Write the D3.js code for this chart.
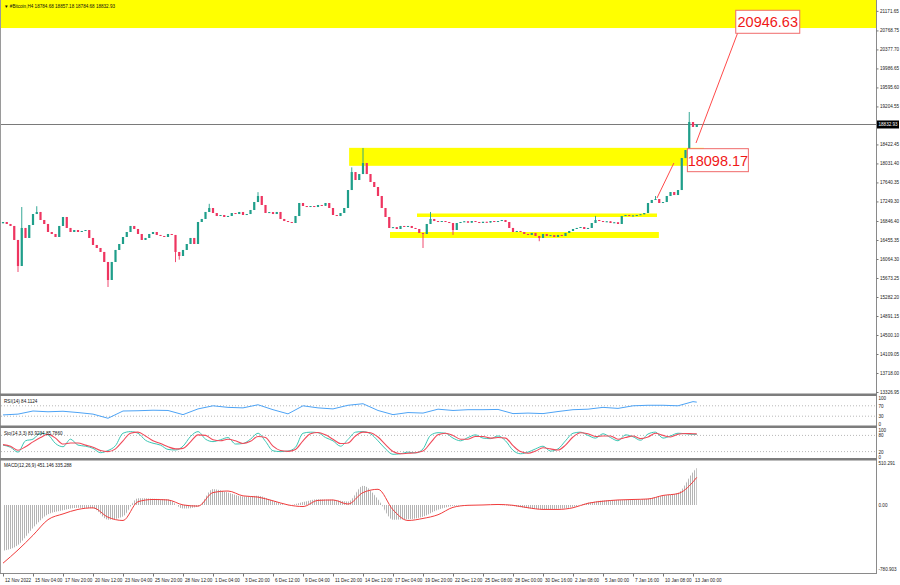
<!DOCTYPE html>
<html><head><meta charset="utf-8">
<script src="https://cdn.jsdelivr.net/npm/d3@7/dist/d3.min.js"></script>
<style>
body{margin:0;background:#fff;}
svg{display:block;font-family:"Liberation Sans",Arial,sans-serif;}
</style>
</head><body>
<svg id="c" width="900" height="585"></svg>
<script>
// ---------------- DATA ----------------
const symbolTitle = "\u25BC #Bitcoin,H4  18784.68 18857.18 18784.68 18832.93";
const firstOpen = 16800;
const closes = [16826,16785,16744,16456,15920,16703,16497,16764,16990,17032,
16867,16785,16620,16579,16517,16744,16929,16703,16620,16661,
16620,16641,16661,16497,16353,16291,16209,16003,15632,16003,
16250,16373,16517,16620,16744,16682,16579,16456,16497,16579,
16620,16559,16538,16517,16579,16559,16209,16126,16250,16373,
16497,16373,16826,16888,17032,17114,17011,16949,16970,16929,
16950,17011,16990,17032,16970,16990,17073,17237,17361,17176,
17011,17030,16990,17032,16888,16846,16826,16805,16949,17217,
17155,17134,17155,17134,17176,17160,17217,17114,16970,16949,
17011,17114,17484,17854,17690,17813,18040,17813,17649,17546,
17361,17114,16929,16703,16720,16682,16744,16723,16744,16703,
16682,16600,16579,16785,16888,16846,16826,16846,16826,16805,
16661,16805,16826,16840,16812,16846,16826,16805,16830,16815,
16846,16826,16846,16867,16826,16703,16620,16641,16620,16579,
16559,16600,16538,16497,16579,16538,16555,16517,16559,16538,
16600,16641,16682,16703,16723,16682,16703,16805,16867,16846,
16826,16840,16805,16820,16785,16949,16970,16949,16960,16970,
16985,17011,17217,17279,17299,17217,17237,17361,17443,17381,
17484,18142,18307,18884,18782,18832.93];
const upperWickIdx = [5, 9, 55, 68, 93, 96, 114, 158, 174, 183];
const upperWickVal = [17134, 17150, 17200, 17440, 17950, 18349, 17032, 16950, 17361, 19090];
const lowerWickIdx = [4, 28, 46, 47, 112, 120, 143];
const lowerWickVal = [15797, 15488, 16000, 16050, 16291, 16560, 16430];

const priceTicks = [13326.95,13718.00,14109.05,14500.10,14891.15,15282.20,15673.25,16064.30,16455.35,16846.40,17249.30,17640.35,18031.40,18422.45,19204.55,19595.60,19986.65,20377.70,20768.75,21171.65];
const lastPrice = 18832.93;

const timeLabels = ["12 Nov 2022","15 Nov 04:00","17 Nov 20:00","20 Nov 12:00","23 Nov 04:00","25 Nov 20:00","28 Nov 12:00","1 Dec 04:00","3 Dec 20:00","6 Dec 12:00","9 Dec 04:00","11 Dec 20:00","14 Dec 12:00","17 Dec 04:00","19 Dec 20:00","22 Dec 12:00","25 Dec 08:00","28 Dec 00:00","30 Dec 16:00","2 Jan 08:00","5 Jan 00:00","7 Jan 16:00","10 Jan 08:00","13 Jan 00:00"];
const timeIdx = timeLabels.map((d,i)=>i*8);

// zones: [startIdx, endIdx, lowPrice, highPrice]
const zoneStart = [-1, 92.3, 110.4, 103.2];
const zoneEnd   = [233, 186.9, 174.4, 174.9];
const zoneLow   = [20818, 17982, 16929, 16497];
const zoneHigh  = [21600, 18352, 17001, 16620];

// projection lines
const lineAIdx = [174.4, 178.9], lineAVal = [17320, 18040];
const lineBIdx = [184.8, 196.0], lineBVal = [18452, 20736];
const tagText = ["20946.63","18098.17"];
const tagPrice = [20946.63, 18098.17];
const tagIdx = [195.4, 182.5];

// RSI (every 4 bars + last)
const rsiTitle = "RSI(14) 84.1124";
const rsi = [35,38,50,47,49,44,38,22,50,51,53,52,36,58,70,64,62,74,55,39,70,62,58,72,78,52,36,44,42,57,52,55,55,56,40,42,40,48,55,57,64,60,70,72,72,70,86,84.11];
const rsiLevels = [70,30];
const rsiTicks = [100,70,30,0];

// Stochastic (every 2 bars + last)
const stoTitle = "Sto(14,3,3) 83.9234 85.7860";
const stochK = [44,36,18,60,66,88,82,50,38,66,44,40,32,16,24,42,88,94,88,62,51,44,28,26,40,76,94,66,57,64,72,48,50,66,88,58,23,20,22,36,88,92,90,72,60,40,65,92,94,86,60,30,10,12,18,15,30,80,90,88,70,60,72,82,70,68,78,60,25,12,18,30,40,22,30,60,88,92,80,70,86,72,60,82,75,62,85,92,70,78,88,86,84,83.92];
const stochD = [46,40,25,38,56,72,84,70,48,52,52,44,36,24,20,30,60,88,92,78,60,50,38,30,32,56,82,80,64,60,66,60,50,58,76,72,40,24,21,28,60,86,91,82,66,50,52,78,92,90,74,46,20,12,14,16,22,52,82,88,80,66,66,76,76,70,72,70,42,20,14,22,34,30,26,44,74,90,86,76,78,78,66,72,78,68,74,88,80,74,84,87,86,85.79];
const stoLevels = [80,20];
const stoTicks = [100,80,20,0];

// MACD (every 4 bars + last)
const macdTitle = "MACD(12,26,9) 451.146 335.288";
const macdHist = [-560,-488,-280,-115,-65,-34,-40,-180,-140,80,76,70,-45,-22,194,150,102,112,50,-5,35,70,62,40,234,70,-180,-175,-144,-60,-15,-5,-1,-1,-15,-42,-52,-48,-25,25,55,60,60,75,110,145,400,451.146];
const macdSignal = [-710,-549,-370,-180,-110,-55,-36,-150,-190,39,66,60,0,-15,150,169,110,95,50,0,-20,55,60,10,150,190,-60,-190,-165,-120,-30,-5,-1,5,-5,-35,-55,-55,-35,20,45,60,66,72,115,138,280,335.288];
const macdTicks = [510.291, 0, -780.903];
const macdTickLabels = ["510.291","0.00","-780.903"];

// ---------------- LAYOUT ----------------
const plotL = 1, plotR = 876;
const main = {t:0, b:393.5};
const pR = {t:396, b:425.5};
const pS = {t:428, b:458};
const pM = {t:460.5, b:573};

const x = d3.scaleLinear().domain([0,185]).range([3,696.75]);
const yP = d3.scaleLinear().domain([13326.95,21171.65]).range([392,10.85]);
const yR = d3.scaleLinear().domain([0,100]).range([424,398]);
const yS = d3.scaleLinear().domain([0,100]).range([457,430]);
const yM = d3.scaleLinear().domain([-780.903,510.291]).range([569,463]);

const svg = d3.select('#c');
svg.append('rect').attr('width',900).attr('height',585).attr('fill','#fff');
const defs = svg.append('defs');
function clip(id,p){defs.append('clipPath').attr('id',id).append('rect')
  .attr('x',plotL).attr('y',p.t).attr('width',plotR-plotL).attr('height',p.b-p.t);}
clip('cm',main); clip('cr',pR); clip('cs',pS); clip('cM',pM);
const pat = defs.append('pattern').attr('id','hp').attr('patternUnits','userSpaceOnUse')
  .attr('width',2).attr('height',4);
pat.append('rect').attr('x',0).attr('y',0).attr('width',1).attr('height',4).attr('fill','#b4b4b4');

const BULL = '#1f9e8a', BEAR = '#ee3560';

// ---- main panel ----
const gm = svg.append('g').attr('clip-path','url(#cm)');
gm.selectAll('rect.zone').data(zoneStart).join('rect').attr('class','zone')
  .attr('x',(d,i)=>x(zoneStart[i])).attr('width',(d,i)=>x(zoneEnd[i])-x(zoneStart[i]))
  .attr('y',(d,i)=>yP(zoneHigh[i])).attr('height',(d,i)=>yP(zoneLow[i])-yP(zoneHigh[i]))
  .attr('fill','#ffff00');

gm.append('line').attr('x1',plotL).attr('x2',plotR)
  .attr('y1',Math.round(yP(lastPrice))+0.5).attr('y2',Math.round(yP(lastPrice))+0.5)
  .attr('stroke','#7a7a7a').attr('stroke-width',1);

const candles = closes.map((c,i)=>{
  const o = i===0?firstOpen:closes[i-1];
  let hi = Math.max(o,c), lo = Math.min(o,c);
  const ui = upperWickIdx.indexOf(i); if(ui>=0) hi = Math.max(hi,upperWickVal[ui]);
  const li = lowerWickIdx.indexOf(i); if(li>=0) lo = Math.min(lo,lowerWickVal[li]);
  return {i,o,c,hi,lo};
});
const gc = gm.append('g');
gc.selectAll('line').data(candles).join('line')
  .attr('x1',d=>x(d.i)).attr('x2',d=>x(d.i))
  .attr('y1',d=>yP(d.hi)).attr('y2',d=>yP(d.lo))
  .attr('stroke',d=>d.c>=d.o?BULL:BEAR).attr('stroke-width',0.9);
gc.selectAll('rect').data(candles).join('rect')
  .attr('x',d=>x(d.i)-1.1).attr('width',2.2)
  .attr('y',d=>Math.min(yP(d.o),yP(d.c)))
  .attr('height',d=>Math.max(1,Math.abs(yP(d.o)-yP(d.c))))
  .attr('fill',d=>d.c>=d.o?BULL:BEAR);

const lineGen = d3.line().x(d=>x(d[0])).y(d=>yP(d[1]));
gm.append('path').attr('d',lineGen(lineAIdx.map((d,i)=>[d,lineAVal[i]])))
  .attr('stroke','#ff4a4a').attr('stroke-width',1).attr('fill','none');
gm.append('path').attr('d',lineGen(lineBIdx.map((d,i)=>[d,lineBVal[i]])))
  .attr('stroke','#ff4a4a').attr('stroke-width',1).attr('fill','none');

const tagW = [64,61];
tagText.forEach((t,i)=>{
  const g = gm.append('g');
  g.append('rect').attr('x',x(tagIdx[i])).attr('y',yP(tagPrice[i])-11.5)
    .attr('width',tagW[i]).attr('height',23).attr('fill','#fff')
    .attr('stroke','#f06a6a').attr('stroke-width',1);
  g.append('text').attr('x',x(tagIdx[i])+tagW[i]/2).attr('y',yP(tagPrice[i])+5.5)
    .attr('text-anchor','middle').attr('font-size',14.5).attr('fill','#f01818').text(t);
});

svg.append('text').attr('x',4).attr('y',7.5).attr('font-size',4.6).attr('fill','#111').text(symbolTitle);

// ---- RSI ----
const gr = svg.append('g').attr('clip-path','url(#cr)');
rsiLevels.forEach(v=>gr.append('line').attr('x1',plotL).attr('x2',plotR)
  .attr('y1',yR(v)).attr('y2',yR(v)).attr('stroke','#b8b8b8').attr('stroke-dasharray','1,2'));
const rsiIdx = d3.range(0,185,4).concat([185]);
gr.append('path').attr('d',d3.line().x((d,i)=>x(rsiIdx[i])).y(d=>yR(d))(rsi))
  .attr('fill','none').attr('stroke','#4da3f5').attr('stroke-width',1);
svg.append('text').attr('x',4).attr('y',403).attr('font-size',4.6).attr('fill','#111').text(rsiTitle);

// ---- Stochastic ----
const gs = svg.append('g').attr('clip-path','url(#cs)');
stoLevels.forEach(v=>gs.append('line').attr('x1',plotL).attr('x2',plotR)
  .attr('y1',yS(v)).attr('y2',yS(v)).attr('stroke','#b8b8b8').attr('stroke-dasharray','1,2'));
const stoIdx = d3.range(0,185,2).concat([185]);
const sLine = d3.line().x((d,i)=>x(stoIdx[i])).y(d=>yS(d)).curve(d3.curveMonotoneX);
gs.append('path').attr('d',sLine(stochK)).attr('fill','none').attr('stroke','#3cc6b4').attr('stroke-width',1);
gs.append('path').attr('d',sLine(stochD)).attr('fill','none').attr('stroke','#f04a5a').attr('stroke-width',1.1);
svg.append('text').attr('x',4).attr('y',435).attr('font-size',4.6).attr('fill','#111').text(stoTitle);

// ---- MACD ----
const gM = svg.append('g').attr('clip-path','url(#cM)');
const mIdx = d3.range(0,185,4).concat([185]);
gM.append('path').attr('d',d3.area().x((d,i)=>x(mIdx[i])).y0(yM(0)).y1(d=>yM(d)).curve(d3.curveMonotoneX)(macdHist))
  .attr('fill','url(#hp)');
gM.append('path').attr('d',d3.line().x((d,i)=>x(mIdx[i])).y(d=>yM(d)).curve(d3.curveMonotoneX)(macdSignal))
  .attr('fill','none').attr('stroke','#f03c3c').attr('stroke-width',1);
svg.append('text').attr('x',4).attr('y',467).attr('font-size',4.6).attr('fill','#111').text(macdTitle);

// ---- frames ----
const frame = svg.append('g');
frame.append('line').attr('x1',0.5).attr('x2',0.5).attr('y1',0).attr('y2',573.5).attr('stroke','#9a9a9a');
frame.append('line').attr('x1',plotR+0.5).attr('x2',plotR+0.5).attr('y1',0).attr('y2',574).attr('stroke','#8a8a8a');
[[393.5,2.5],[425.5,2.5],[458,2.5]].forEach(s=>frame.append('rect').attr('x',0).attr('y',s[0])
  .attr('width',plotR+1).attr('height',s[1]).attr('fill','#7d7d7d'));
frame.append('line').attr('x1',0).attr('x2',plotR+1).attr('y1',573.5).attr('y2',573.5).attr('stroke','#8a8a8a');

// ---- axes ----
function styleAxis(g){
  g.select('.domain').remove();
  g.selectAll('line').attr('stroke','#777');
  g.selectAll('text').attr('font-size',4.6).attr('fill','#222').attr('font-family','"Liberation Sans",Arial,sans-serif');
}
svg.append('g').attr('transform',`translate(${plotR+0.5},0)`)
  .call(d3.axisRight(yP).tickValues(priceTicks).tickFormat(d=>d.toFixed(2)).tickSize(2).tickPadding(1.5))
  .call(styleAxis);
// last price marker
const lpY = yP(lastPrice);
svg.append('rect').attr('x',plotR+1).attr('y',lpY-4).attr('width',22).attr('height',8).attr('fill','#000');
svg.append('text').attr('x',plotR+2.5).attr('y',lpY+1.7).attr('font-size',4.6).attr('fill','#fff').text(lastPrice.toFixed(2));

svg.append('g').attr('transform',`translate(${plotR+0.5},0)`)
  .call(d3.axisRight(yR).tickValues(rsiTicks).tickSize(0).tickPadding(2)).call(styleAxis);
svg.append('g').attr('transform',`translate(${plotR+0.5},0)`)
  .call(d3.axisRight(yS).tickValues(stoTicks).tickSize(0).tickPadding(2)).call(styleAxis);
svg.append('g').attr('transform',`translate(${plotR+0.5},0)`)
  .call(d3.axisRight(yM).tickValues(macdTicks).tickFormat((d,i)=>macdTickLabels[i]).tickSize(0).tickPadding(2)).call(styleAxis);

const xa = svg.append('g').attr('transform','translate(0,573.5)')
  .call(d3.axisBottom(x).tickValues(timeIdx).tickFormat((d,i)=>timeLabels[i]).tickSize(3).tickPadding(2))
  .call(styleAxis);
xa.selectAll('text').attr('text-anchor','start').attr('dx',1.5);
</script>
</body></html>
